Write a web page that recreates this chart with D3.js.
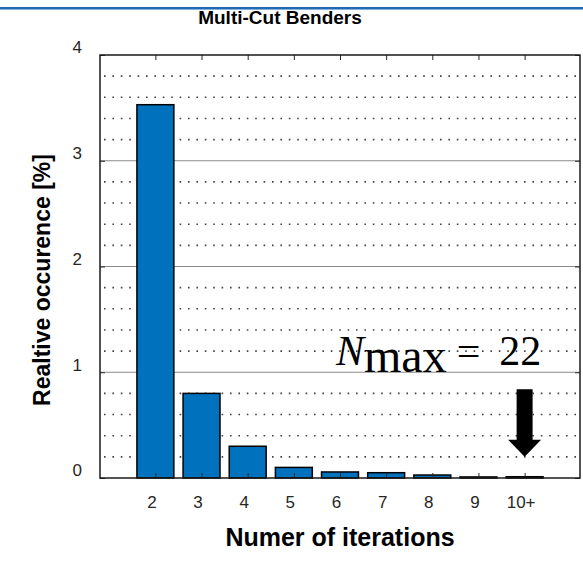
<!DOCTYPE html>
<html lang="en">
<head>
  <meta charset="UTF-8">
  <title>Multi-Cut Benders</title>
  <style>
    html, body { margin: 0; background: #fff; }
    .bar { fill: #0072BD; stroke: #000; stroke-width: 1.5px; }
    .grid-major { stroke: #8a8a8a; stroke-width: 1; }
    .grid-minor { stroke: #444; stroke-width: 1.6; stroke-dasharray: 1.6 6.8; }
  </style>
</head>
<body>
<svg id="chart" width="583" height="567" viewBox="0 0 583 567"></svg>

<script src="https://d3js.org/d3.v7.min.js"></script>
<script>

// data
const iterations = [2, 3, 4, 5, 6, 7, 8, 9, 10];
const tickLabels = ["2", "3", "4", "5", "6", "7", "8", "9", "10+"];
const occurrence = [3.53, 0.80, 0.30, 0.10, 0.057, 0.05, 0.028, 0.01, 0.012];
const yTicks = [0, 1, 2, 3, 4];
const arrowFrom = 0.84, arrowTo = 0.2, arrowX = 10;

const sans = "'Liberation Sans', Arial, sans-serif",
    serif = "'Liberation Serif', 'Times New Roman', serif";

const svg = d3.select("#chart"),
    margin = {top: 55, right: 3, bottom: 89, left: 100},
    width = +svg.attr("width") - margin.left - margin.right,
    height = +svg.attr("height") - margin.top - margin.bottom;

const x = d3.scaleLinear().domain([0.8, 11.2]).range([0, width]),
    y = d3.scaleLinear().domain([0, 4]).range([height, 0]);

// blue rule at the top of the page
svg.append("rect").attr("x", 0).attr("y", 7).attr("width", 583).attr("height", 2).attr("fill", "#2169b3");
svg.append("rect").attr("x", 0).attr("y", 9).attr("width", 583).attr("height", 1).attr("fill", "#7fb0de");

const g = svg.append("g")
    .attr("transform", "translate(" + margin.left + "," + margin.top + ")");

// grid
g.selectAll(".grid-minor")
  .data(y.ticks(20).filter(function (d) { return Math.abs(d - Math.round(d)) > 1e-6; }))
  .enter().append("line")
    .attr("class", "grid-minor")
    .attr("x1", 4).attr("x2", width)
    .attr("y1", function (d) { return y(d); })
    .attr("y2", function (d) { return y(d); });

g.selectAll(".grid-major")
  .data(yTicks.slice(1, -1))
  .enter().append("line")
    .attr("class", "grid-major")
    .attr("x1", 0).attr("x2", width)
    .attr("y1", function (d) { return y(d); })
    .attr("y2", function (d) { return y(d); });

// bars
g.selectAll(".bar")
  .data(iterations)
  .enter().append("rect")
    .attr("class", "bar")
    .attr("x", function (d) { return x(d - 0.4); })
    .attr("width", x(1.2) - x(0.4))
    .attr("y", function (d, i) { return y(occurrence[i]); })
    .attr("height", function (d, i) { return y(0) - y(occurrence[i]); });

// axes, ticks pointing inwards
const xAxis = d3.axisBottom(x).tickValues(iterations)
    .tickFormat(function (d, i) { return tickLabels[i]; })
    .tickSizeInner(-5).tickSizeOuter(0).tickPadding(18);
g.append("g").attr("class", "axis axis--x")
    .attr("transform", "translate(0," + height + ")")
    .call(xAxis)
    .selectAll("text").attr("dx", -4);

g.append("g").attr("class", "axis axis--x2")
    .call(d3.axisTop(x).tickValues(iterations).tickFormat("").tickSizeInner(-5).tickSizeOuter(0));

g.append("g").attr("class", "axis axis--y")
    .call(d3.axisLeft(y).tickValues(yTicks).tickFormat(d3.format("d"))
      .tickSizeInner(-5).tickSizeOuter(0).tickPadding(18))
    .selectAll("text").attr("y", -7.5);

g.append("g").attr("class", "axis axis--y2")
    .attr("transform", "translate(" + width + ",0)")
    .call(d3.axisRight(y).tickValues(yTicks).tickFormat("").tickSizeInner(-5).tickSizeOuter(0));

g.selectAll(".domain").remove();
g.selectAll(".axis").attr("font-size", null).attr("font-family", null);
g.selectAll(".tick line").attr("stroke", "#262626");
g.selectAll(".tick text")
    .style("font-family", sans).style("font-size", "17px").attr("fill", "#262626");

g.append("rect")
    .attr("width", width).attr("height", height)
    .attr("fill", "none").attr("stroke", "#1a1a1a").attr("stroke-width", 1.5);

// titles
svg.append("text")
    .attr("x", 280).attr("y", 24)
    .attr("text-anchor", "middle")
    .style("font-family", sans).style("font-weight", "bold").style("font-size", "19px")
    .text("Multi-Cut Benders");

svg.append("text")
    .attr("x", margin.left + width / 2).attr("y", 546)
    .attr("text-anchor", "middle")
    .style("font-family", sans).style("font-weight", "bold").style("font-size", "25px")
    .text("Numer of iterations");

svg.append("text")
    .attr("transform", "translate(50,280) rotate(-90)")
    .attr("text-anchor", "middle")
    .style("font-family", sans).style("font-weight", "bold").style("font-size", "23px")
    .text("Realtive occurence [%]");

// annotation
const note = g.append("text")
    .attr("x", 236).attr("y", y(1) - 7)
    .style("font-family", serif)
    .style("font-size", "42px")
    .attr("fill", "#000");
note.append("tspan").style("font-style", "italic").text("N");
note.append("tspan").style("font-size", "48px").attr("dy", 7).text("max");
note.append("tspan").attr("dx", 10).attr("dy", -7).text("=");
note.append("tspan").attr("dx", 19).text("22");

const ax = x(arrowX), shaft = 8, head = 16.5, headLen = 17;
g.append("path")
    .attr("fill", "#000")
    .attr("d", d3.line()([
      [ax - shaft, y(arrowFrom)], [ax + shaft, y(arrowFrom)],
      [ax + shaft, y(arrowTo) - headLen], [ax + head, y(arrowTo) - headLen],
      [ax, y(arrowTo)],
      [ax - head, y(arrowTo) - headLen], [ax - shaft, y(arrowTo) - headLen]
    ]) + "Z");

</script>
</body>
</html>
